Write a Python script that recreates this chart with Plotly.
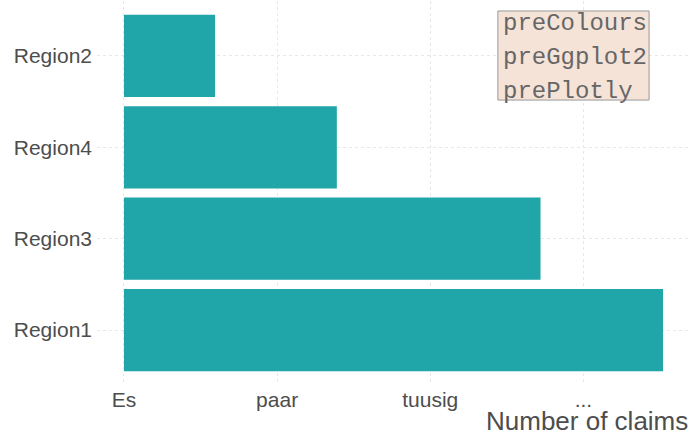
import plotly.graph_objects as go

regions = ["Region1", "Region3", "Region4", "Region2"]
claims = [3.52, 2.72, 1.39, 0.595]
tick_vals = [0, 1, 2, 3]
tick_text = ["Es", "paar", "tuusig", "..."]
legend_items = ["preColours", "preGgplot2", "prePlotly"]

bar_color = "#20A5A9"
grid_color = "#E8E8E8"
text_color = "#4D4D4D"

fig = go.Figure()
fig.add_trace(go.Bar(
    x=claims, y=regions, orientation="h", width=0.9,
    marker=dict(color=bar_color, line=dict(width=0)),
    showlegend=False, hoverinfo="x+y",
))

fig.update_layout(
    width=692, height=437,
    margin=dict(l=97, r=2, t=1, b=52),
    paper_bgcolor="white", plot_bgcolor="white",
    font=dict(family="Liberation Sans", color=text_color, size=20),
    bargap=0.1,
    showlegend=False,
)
fig.update_xaxes(
    range=[-0.176, 3.696], tickvals=tick_vals, ticktext=tick_text,
    showgrid=True, gridcolor=grid_color, griddash="3px,3px", gridwidth=1,
    zeroline=False, showline=False, ticks="", ticklen=0, automargin=False,
    tickfont=dict(size=21, color=text_color),
)
fig.update_yaxes(
    categoryorder="array", categoryarray=regions, range=[-0.6, 3.6],
    showgrid=True, gridcolor=grid_color, griddash="3px,3px", gridwidth=1,
    zeroline=False, showline=False, ticks="", ticklen=0, automargin=False,
    ticklabelstandoff=4,
    tickfont=dict(size=21, color=text_color),
)

fig.add_annotation(
    text="Number of claims", xref="paper", yref="paper",
    x=1.0, y=-0.094, xanchor="right", yanchor="middle", showarrow=False,
    font=dict(size=26, color=text_color, family="Liberation Sans"),
)

fig.add_shape(
    type="rect", xref="paper", yref="paper",
    x0=0.676, x1=0.931, y0=0.742, y1=0.974,
    fillcolor="#F5E3D8", line=dict(color="#9A9A9A", width=1), layer="above",
)
ys = [0.942, 0.853, 0.765]
for name, yy in zip(legend_items, ys):
    fig.add_annotation(
        text=name, xref="paper", yref="paper", x=0.682, y=yy,
        xanchor="left", yanchor="middle", showarrow=False,
        font=dict(family="Liberation Mono", size=24, color="#666666"),
    )

fig.write_html(
    "out.html",
    config={"displayModeBar": False},
    post_script="document.body.style.margin='0';document.body.style.overflow='hidden';",
)
